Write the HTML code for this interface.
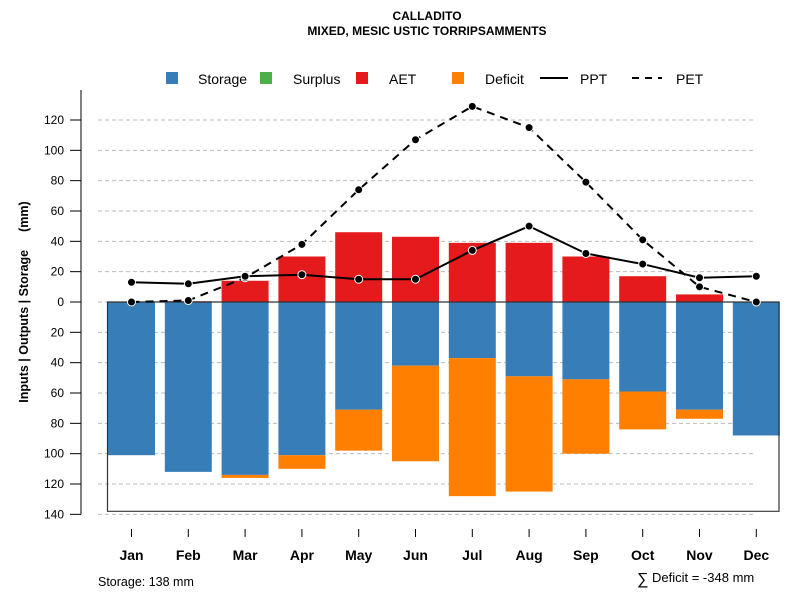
<!DOCTYPE html>
<html><head><meta charset="utf-8"><style>
body{margin:0;background:#fff;font-family:"Liberation Sans",sans-serif}
svg{display:block}
</style></head><body>
<svg id="chart" width="800" height="600" xmlns="http://www.w3.org/2000/svg" font-family="Liberation Sans, sans-serif">
<text x="427" y="20" text-anchor="middle" font-size="12" font-weight="bold">CALLADITO</text>
<text x="427" y="35" text-anchor="middle" font-size="12" font-weight="bold">MIXED, MESIC USTIC TORRIPSAMMENTS</text>
<g id="legend" font-size="14">
<rect x="166" y="72" width="12" height="12" fill="#377eb8"/>
<text x="198" y="84">Storage</text>
<rect x="260" y="72" width="12" height="12" fill="#4daf4a"/>
<text x="293" y="84">Surplus</text>
<rect x="356" y="72" width="12" height="12" fill="#e41a1c"/>
<text x="389" y="84">AET</text>
<rect x="452" y="72" width="12" height="12" fill="#ff7f00"/>
<text x="485" y="84">Deficit</text>
<line x1="540" y1="78" x2="568" y2="78" stroke="#000" stroke-width="2"/>
<text x="580" y="84">PPT</text>
<line x1="632" y1="78" x2="662" y2="78" stroke="#000" stroke-width="2" stroke-dasharray="7,6"/>
<text x="676" y="84">PET</text>
</g>
<text transform="translate(28,302) rotate(-90)" text-anchor="middle" font-size="12.5" font-weight="bold">Inputs | Outputs | Storage<tspan dx="18">(mm)</tspan></text>
<text x="98" y="586" font-size="12.5">Storage: 138 mm</text>
<text x="637" y="584" font-size="16">∑</text>
<text x="652" y="582" font-size="13">Deficit = -348 mm</text>
</svg>
<script>
const months=["Jan","Feb","Mar","Apr","May","Jun","Jul","Aug","Sep","Oct","Nov","Dec"];
const aet=[0,0.5,14,30,46,43,39,39,30,17,5,0];
const storage=[101,112,114,101,71,42,37,49,51,59,71,88];
const deficit=[0,0,2,9,27,63,91,76,49,25,6,0];
const ppt=[13,12,17,18,15,15,34,50,32,25,16,17];
const pet=[0,1,16,38,74,107,129,115,79,41,10,0];
const yTicks=[120,100,80,60,40,20,0,20,40,60,80,100,120,140];
const totalStorage=138;
const NS="http://www.w3.org/2000/svg";
const svg=document.getElementById("chart");
const y=v=>302-v*1.5167;
const x=i=>131.5+i*56.8;
const bw=47;
function mk(t,a,p){const e=document.createElementNS(NS,t);for(const k in a)e.setAttribute(k,a[k]);(p||svg).appendChild(e);return e;}
yTicks.forEach((t,i)=>{const v=i<7?t:-t;const yy=y(v);
const g=mk("line",{x1:98,x2:755,y1:yy,y2:yy,stroke:"#bbb","stroke-dasharray":"4,3"});


const tk=mk("line",{x1:70,x2:81,y1:yy,y2:yy,stroke:"#000"});


const tl=mk("text",{x:64,y:yy+4,"text-anchor":"end","font-size":"12"});tl.textContent=t;


});
const ax=mk("line",{x1:81,x2:81,y1:90,y2:y(-140),stroke:"#000"});


months.forEach((m,i)=>{
const r1=mk("rect",{x:x(i)-bw/2,y:y(aet[i]),width:bw,height:y(0)-y(aet[i]),fill:"#e41a1c"});


const r2=mk("rect",{x:x(i)-bw/2,y:y(0),width:bw,height:y(-storage[i])-y(0),fill:"#377eb8"});


if(deficit[i]>0){const r3=mk("rect",{x:x(i)-bw/2,y:y(-storage[i]),width:bw,height:y(-storage[i]-deficit[i])-y(-storage[i]),fill:"#ff7f00"});

}
const tk=mk("line",{x1:x(i),x2:x(i),y1:529,y2:537,stroke:"#000"});


const tl=mk("text",{x:x(i),y:560,"text-anchor":"middle","font-size":"14","font-weight":"bold"});tl.textContent=m;


});
const bx=mk("path",{d:`M107.5 ${y(0)} V${y(-totalStorage)} H779 V${y(0)} Z`,fill:"none",stroke:"#333","stroke-width":1.2});


function series(vals,dash,name){
const pts=vals.map((v,i)=>x(i)+","+y(v)).join(" ");
const l=mk("polyline",{points:pts,fill:"none",stroke:"#000","stroke-width":2,"stroke-dasharray":dash});


vals.forEach((v,i)=>{const c=mk("circle",{cx:x(i),cy:y(v),r:4,fill:"#000",stroke:"#fff","stroke-width":1});

});
}
series(pet,"8,6","pet");
series(ppt,"none","ppt");
</script>
</body></html>
